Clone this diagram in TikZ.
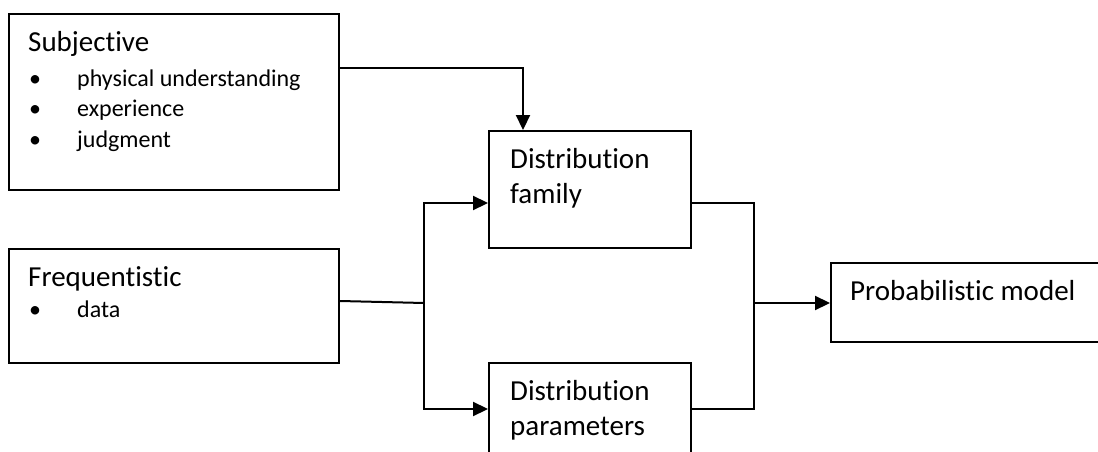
\documentclass[tikz,border=0pt]{standalone}
\usepackage{fontspec}
\setmainfont[Ligatures=NoCommon]{Carlito}
\usetikzlibrary{arrows.meta}

\begin{document}
\begin{tikzpicture}[x=1pt, y=-1pt,
  box/.style={draw, line width=2pt, rectangle, inner sep=0pt, anchor=north west},
  hd/.style={inner sep=0pt, anchor=base west, font=\fontsize{29}{35}\selectfont},
  itm/.style={inner sep=0pt, anchor=base west, font=\fontsize{24}{29}\selectfont},
  bul/.style={inner sep=0pt, anchor=base, font=\fontsize{24}{29}\selectfont},
  wire/.style={line width=2pt},
  arr/.style={line width=2.2pt, -{Triangle[length=15pt, width=14pt]}}
]
\useasboundingbox (0,0) rectangle (1098,452);

% source boxes
\node[box, minimum width=330pt, minimum height=176pt] (subj) at (8,13) {};
\node[hd] (subjt) at (28,52) {Subjective};
\node[bul] (b1) at (35,87) {•};
\node[itm] (i1) at (77,87) {physical understanding};
\node[bul] (b2) at (35,117) {•};
\node[itm] (i2) at (77,117) {experience};
\node[bul] (b3) at (35,147) {•};
\node[itm] (i3) at (77,147) {judgment};

\node[box, minimum width=330pt, minimum height=114pt] (freq) at (8,248) {};
\node[hd] (freqt) at (28,286) {Frequentistic};
\node[bul] (b4) at (35,317) {•};
\node[itm] (i4) at (77,317) {data};

% distribution boxes
\node[box, minimum width=202pt, minimum height=117pt] (fam) at (488,130) {};
\node[hd] (famt1) at (510,168) {Distribution};
\node[hd] (famt2) at (510,203) {family};

\node[box, minimum width=202pt, minimum height=117pt] (par) at (488,362) {};
\node[hd] (part1) at (510,400) {Distribution};
\node[hd] (part2) at (510,435) {parameters};

% result box
\node[box, minimum width=290pt, minimum height=79pt] (prob) at (830,262) {};
\node[hd] (probt) at (850,300) {Probabilistic model};

% connectors
\coordinate (j) at (424,303);
\coordinate (k) at (754,303);

\draw[arr] ([yshift=-55pt]subj.north east) -| ([xshift=35pt]fam.north west);
\draw[wire] ([yshift=-53pt]freq.north east) -- (j);
\draw[arr] (j) |- ([yshift=-73pt]fam.north west);
\draw[arr] (j) |- ([yshift=-47pt]par.north west);
\draw[wire] ([yshift=-73pt]fam.north east) -| (k) |- ([yshift=-47pt]par.north east);
\draw[arr] (k) -- (prob.west |- k);
\end{tikzpicture}
\end{document}
